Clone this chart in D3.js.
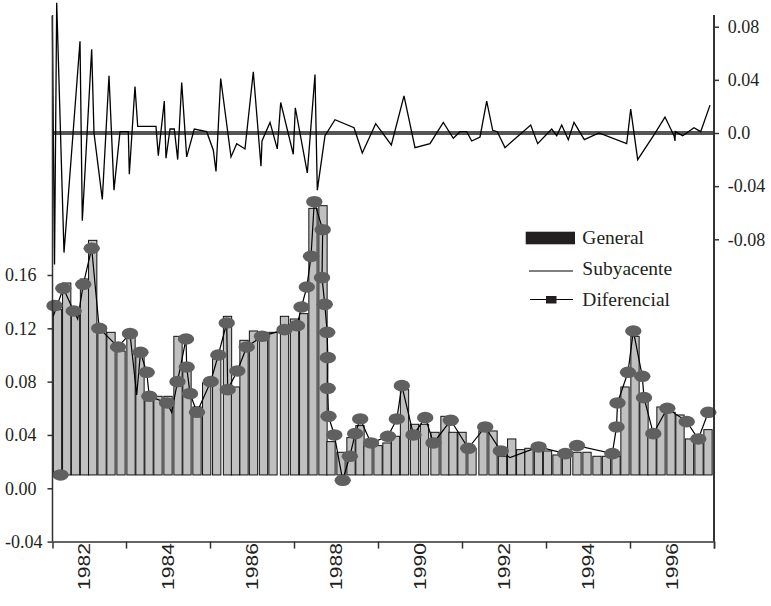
<!DOCTYPE html>
<html>
<head>
<meta charset="utf-8">
<script src="https://cdn.jsdelivr.net/npm/d3@7"></script>
<style>
  body { margin: 0; background: #fff; }
  svg { display: block; }
</style>
</head>
<body>
<svg id="chart" width="771" height="606"></svg>
<script>
// ---- data (dates as decimal years) ----
const barDates = [1981.369,1981.588,1981.798,1982.012,1982.207,1982.429,1982.643,1982.881,1983.119,1983.333,
  1983.548,1983.762,1984.000,1984.238,1984.452,1984.690,1984.921,1985.160,1985.417,1985.607,
  1985.810,1986.036,1986.274,1986.500,1986.774,1987.012,1987.231,1987.452,1987.690,1987.881,
  1988.119,1988.357,1988.571,1988.762,1989.000,1989.214,1989.417,1989.631,1989.869,1990.107,
  1990.357,1990.595,1990.786,1991.000,1991.238,1991.500,1991.738,1991.964,1992.183,1992.398,
  1992.595,1992.821,1993.036,1993.262,1993.488,1993.738,1993.976,1994.214,1994.440,1994.667,
  1994.881,1995.119,1995.333,1995.524,1995.738,1995.976,1996.190,1996.417,1996.643,1996.857];
const barValues = [0.134,0.154,0.130,0.157,0.186,0.121,0.117,0.103,0.118,0.103,
  0.072,0.069,0.069,0.114,0.090,0.061,0.079,0.097,0.129,0.076,
  0.111,0.118,0.117,0.117,0.129,0.127,0.131,0.210,0.212,0.035,
  0.027,0.038,0.047,0.032,0.032,0.034,0.039,0.074,0.048,0.048,
  0.042,0.054,0.042,0.042,0.030,0.043,0.043,0.024,0.037,0.029,
  0.030,0.029,0.028,0.025,0.025,0.027,0.027,0.024,0.024,0.024,
  0.076,0.114,0.070,0.043,0.061,0.057,0.055,0.037,0.036,0.044];
const barBase = 0.01;

const subDates = [1981.267,1981.507,1981.755,1981.850,1981.983,1982.183,1982.362,1982.810,1983.095,1983.255,
  1983.345,1983.493,1983.555,1983.976,1984.088,1984.226,1984.429,1984.445,1984.524,1984.690,
  1985.017,1985.198,1985.398,1985.421,1985.650,1985.874,1986.238,1986.774,1987.071,1987.179,
  1987.305,1987.405,1987.483,1987.683,1987.667,1987.733,1987.790,1987.805,1987.802,1987.821,
  1987.960,1988.160,1988.329,1988.457,1988.576,1988.833,1989.238,1989.448,1989.567,1989.845,
  1990.124,1990.321,1990.733,1991.148,1991.552,1991.924,1992.143,1992.824,1993.460,1993.738,
  1994.579,1994.679,1994.702,1994.952,1995.079,1995.293,1995.333,1995.555,1995.888,1996.350,
  1996.626,1996.864];
const subValues = [0.129,0.150,0.133,0.127,0.153,0.180,0.120,0.106,0.116,0.070,
  0.102,0.087,0.069,0.064,0.057,0.080,0.112,0.091,0.071,0.057,
  0.080,0.100,0.124,0.074,0.088,0.106,0.114,0.119,0.122,0.136,
  0.151,0.174,0.215,0.194,0.158,0.138,0.117,0.098,0.075,0.054,
  0.040,0.006,0.024,0.041,0.052,0.034,0.039,0.052,0.077,0.040,
  0.053,0.034,0.051,0.030,0.046,0.028,0.023,0.031,0.026,0.032,
  0.026,0.046,0.064,0.087,0.118,0.084,0.068,0.041,0.060,0.050,
  0.037,0.057];

const dotDates = [1981.298,1981.440,1981.507,1981.755,1981.983,1982.183,1982.362,1982.810,1983.095,1983.345,
  1983.493,1983.555,1983.976,1984.226,1984.429,1984.445,1984.524,1984.690,1985.017,1985.198,
  1985.398,1985.421,1985.650,1985.874,1986.238,1986.774,1987.071,1987.179,1987.305,1987.405,
  1987.483,1987.683,1987.667,1987.733,1987.790,1987.805,1987.802,1987.821,1987.960,1988.160,
  1988.329,1988.457,1988.576,1988.833,1989.238,1989.448,1989.567,1989.845,1990.124,1990.321,
  1990.733,1991.148,1991.552,1991.924,1992.824,1993.460,1993.738,1994.579,1994.679,1994.702,
  1994.952,1995.079,1995.293,1995.333,1995.555,1995.888,1996.350,1996.626,1996.864];
const dotValues = [0.137,0.010,0.150,0.133,0.153,0.180,0.120,0.106,0.116,0.102,
  0.087,0.069,0.064,0.080,0.112,0.091,0.071,0.057,0.080,0.100,
  0.124,0.074,0.088,0.106,0.114,0.119,0.122,0.136,0.151,0.174,
  0.215,0.194,0.158,0.138,0.117,0.098,0.075,0.054,0.040,0.006,
  0.024,0.041,0.052,0.034,0.039,0.052,0.077,0.040,0.053,0.034,
  0.051,0.030,0.046,0.028,0.031,0.026,0.032,0.026,0.046,0.064,
  0.087,0.118,0.084,0.068,0.041,0.060,0.050,0.037,0.057];

const difDates = [1981.245,1981.298,1981.350,1981.524,1981.905,1981.960,1982.183,1982.238,1982.436,1982.595,
  1982.714,1982.857,1983.055,1983.079,1983.214,1983.279,1983.714,1983.769,1983.912,1983.952,
  1984.048,1984.150,1984.231,1984.326,1984.445,1984.626,1984.921,1985.079,1985.143,1985.255,
  1985.500,1985.636,1985.833,1986.031,1986.214,1986.238,1986.429,1986.602,1986.683,1986.983,
  1987.031,1987.317,1987.500,1987.555,1987.738,1987.976,1988.429,1988.626,1988.945,1989.317,
  1989.619,1989.881,1990.238,1990.555,1990.793,1990.952,1991.112,1991.231,1991.429,1991.588,
  1991.731,1991.840,1992.024,1992.636,1992.802,1993.136,1993.255,1993.374,1993.531,1993.667,
  1993.912,1994.262,1994.921,1995.017,1995.183,1995.579,1995.833,1996.048,1996.071,1996.079,
  1996.255,1996.524,1996.683,1996.905];
const difValues = [0.088,-0.099,0.098,-0.090,0.069,-0.066,0.063,0.000,-0.050,0.043,
  -0.043,0.001,0.001,-0.031,0.035,0.005,0.005,-0.017,0.024,-0.019,
  0.003,0.003,-0.020,0.038,-0.018,0.003,0.001,-0.013,-0.029,0.041,
  -0.018,-0.008,-0.012,0.046,-0.025,-0.006,0.008,-0.012,0.023,-0.016,
  0.019,-0.030,0.044,-0.043,-0.002,0.010,0.004,-0.015,0.007,-0.009,
  0.028,-0.011,-0.008,0.008,-0.004,0.001,0.001,-0.006,-0.003,0.024,
  0.002,0.001,-0.011,0.006,-0.008,0.003,-0.002,0.006,-0.005,0.008,
  -0.005,0.000,-0.008,0.018,-0.020,-0.001,0.012,-0.002,-0.006,0.001,
  -0.002,0.004,0.001,0.021];

const leftTicks = [-0.04, 0.00, 0.04, 0.08, 0.12, 0.16];
const leftTickLabels = ["-0.04", "0.00", "0.04", "0.08", "0.12", "0.16"];
const rightTicks = [-0.08, -0.04, 0.0, 0.04, 0.08];
const rightTickLabels = ["-0.08", "-0.04", "0.0", "0.04", "0.08"];
const tickYears = [1983, 1985, 1987, 1989, 1991, 1993, 1995, 1997];
const labelYears = [1982, 1984, 1986, 1988, 1990, 1992, 1994, 1996];
const legendNames = ["General", "Subyacente", "Diferencial"];

// ---- layout ----
const svg = d3.select("#chart");
const plot = { left: 52.5, right: 714, top: 15, bottom: 541.6 };
const serif = "'Liberation Serif', 'Times New Roman', serif";
const ink = "#231f20";

const x = d3.scaleLinear().domain([1981.25, 1997]).range([plot.left, plot.right]);
const yL = d3.scaleLinear().domain([-0.04, 0.16]).range([541.6, 275]);
const yR = d3.scaleLinear().domain([-0.08, 0.08]).range([239.3, 26.7]);

// bars
const barW = 8.3;
svg.append("g").selectAll("rect").data(barDates).join("rect")
  .attr("x", d => x(d) - barW / 2)
  .attr("width", barW)
  .attr("y", (d, i) => yL(barValues[i]))
  .attr("height", (d, i) => yL(barBase) - yL(barValues[i]))
  .attr("fill", "#c0c0c0")
  .attr("stroke", "#111")
  .attr("stroke-width", 1);

// thin line through the lower series
const subLine = d3.line().x(d => x(d[0])).y(d => yL(d[1]));
svg.append("path")
  .datum(subDates.map((d, i) => [d, subValues[i]]))
  .attr("d", subLine)
  .attr("fill", "none")
  .attr("stroke", "#000")
  .attr("stroke-width", 1.2)
  .attr("stroke-linejoin", "miter");

// ellipse markers
svg.append("g").selectAll("ellipse").data(dotDates).join("ellipse")
  .attr("cx", d => x(d))
  .attr("cy", (d, i) => yL(dotValues[i]))
  .attr("rx", 8.2)
  .attr("ry", 5.8)
  .attr("fill", "#606060");

// zero reference on the right scale
svg.append("line")
  .attr("x1", plot.left).attr("x2", plot.right)
  .attr("y1", yR(0)).attr("y2", yR(0))
  .attr("stroke", "#555").attr("stroke-width", 4);

// upper series (right scale)
const difLine = d3.line().x(d => x(d[0])).y(d => yR(d[1]));
svg.append("path")
  .datum(difDates.map((d, i) => [d, difValues[i]]))
  .attr("d", difLine)
  .attr("fill", "none")
  .attr("stroke", "#000")
  .attr("stroke-width", 1.3)
  .attr("stroke-linejoin", "miter");

// left axis
const gL = svg.append("g").attr("transform", `translate(${plot.left},0)`)
  .call(d3.axisLeft(yL).tickValues(leftTicks).tickFormat((d, i) => leftTickLabels[i]).tickSize(5).tickSizeOuter(0));
gL.select(".domain").remove();
gL.selectAll(".tick line").attr("stroke", "#333").attr("stroke-width", 1.5);
gL.selectAll(".tick text").attr("x", 5 - plot.left).attr("text-anchor", "start")
  .attr("font-family", serif).attr("font-size", 18).attr("fill", ink);
svg.append("line").attr("x1", plot.left).attr("x2", plot.left)
  .attr("y1", plot.top).attr("y2", plot.bottom).attr("stroke", "#333").attr("stroke-width", 1.5);

// right axis
const gR = svg.append("g").attr("transform", `translate(${plot.right},0)`)
  .call(d3.axisRight(yR).tickValues(rightTicks).tickFormat((d, i) => rightTickLabels[i]).tickSize(5).tickSizeOuter(0));
gR.select(".domain").remove();
gR.selectAll(".tick line").attr("stroke", "#333").attr("stroke-width", 1.5);
gR.selectAll(".tick text").attr("x", 13.7).attr("text-anchor", "start")
  .attr("font-family", serif).attr("font-size", 18).attr("fill", ink);
svg.append("line").attr("x1", plot.right).attr("x2", plot.right)
  .attr("y1", plot.top).attr("y2", plot.bottom).attr("stroke", "#333").attr("stroke-width", 2);

// bottom axis
const gB = svg.append("g").attr("transform", `translate(0,${plot.bottom})`)
  .call(d3.axisBottom(x).tickValues(tickYears).tickFormat("").tickSize(7).tickSizeOuter(7));
gB.select(".domain").attr("stroke", "#333").attr("stroke-width", 1.5);
gB.selectAll(".tick line").attr("stroke", "#333").attr("stroke-width", 1.5);

// year labels, rotated
svg.append("g").selectAll("text").data(labelYears).join("text")
  .attr("transform", d => `translate(${x(d)},566.5) rotate(-90) scale(1.24,1)`)
  .attr("text-anchor", "middle")
  .attr("dy", "0.35em")
  .attr("font-family", "'Liberation Sans', Arial, sans-serif")
  .attr("font-size", 17)
  .attr("fill", ink)
  .text(d => d);

// legend
const lg = svg.append("g");
lg.append("rect").attr("x", 525.7).attr("y", 231.7).attr("width", 49.3).attr("height", 12.6).attr("fill", ink);
lg.append("line").attr("x1", 529).attr("x2", 573).attr("y1", 271).attr("y2", 271)
  .attr("stroke", "#000").attr("stroke-width", 1.2);
lg.append("line").attr("x1", 530).attr("x2", 573).attr("y1", 299.5).attr("y2", 299.5)
  .attr("stroke", "#000").attr("stroke-width", 1.2);
lg.append("rect").attr("x", 546).attr("y", 296).attr("width", 10.5).attr("height", 7.5).attr("fill", ink);
lg.selectAll("text").data(legendNames).join("text")
  .attr("x", 582.3)
  .attr("y", (d, i) => [244, 275, 305.5][i])
  .attr("font-family", serif).attr("font-size", 19.5).attr("fill", ink)
  .text(d => d);
</script>
</body>
</html>
